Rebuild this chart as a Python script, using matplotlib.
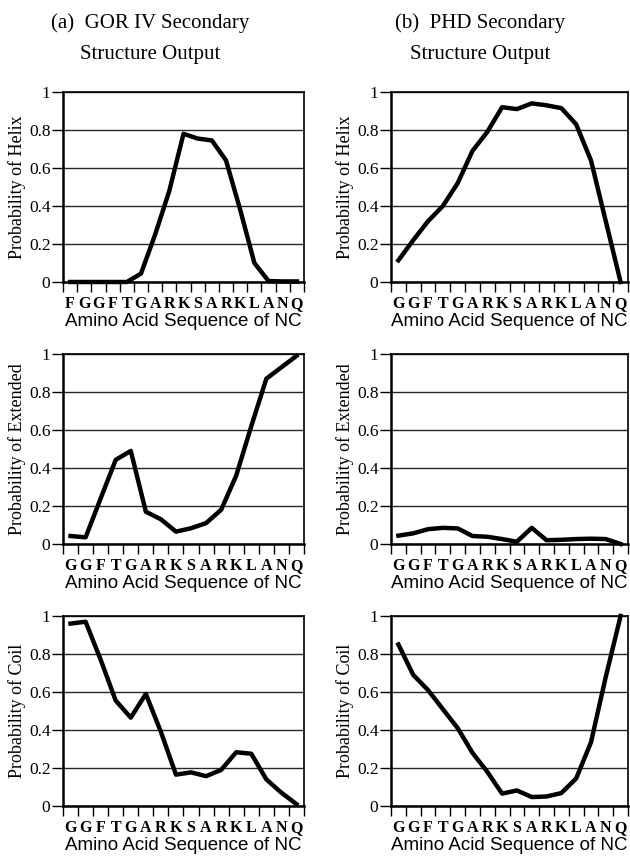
import numpy as np
import matplotlib.pyplot as plt

# amino acid letters on the x axes
seq_gor_helix = list("FGGFTGARKSARKLANQ")
seq = list("GGFTGARKSARKLANQ")

# (a) GOR IV
gor_helix = [0, 0, 0, 0, 0, 0.044, 0.25, 0.48, 0.78, 0.755, 0.745, 0.64, 0.38, 0.10, 0.005, 0.003, 0.003]
gor_ext = [0.042, 0.035, 0.24, 0.443, 0.49, 0.17, 0.13, 0.065, 0.083, 0.11, 0.18, 0.36, 0.62, 0.87, 0.93, 0.99]
gor_coil = [0.96, 0.97, 0.77, 0.555, 0.465, 0.59, 0.39, 0.165, 0.177, 0.157, 0.19, 0.283, 0.275, 0.14, 0.07, 0.01]

# (b) PHD
phd_helix = [0.114, 0.22, 0.32, 0.40, 0.52, 0.69, 0.79, 0.92, 0.91, 0.94, 0.93, 0.915, 0.83, 0.64, 0.32, 0.0]
phd_ext = [0.044, 0.056, 0.078, 0.085, 0.082, 0.042, 0.038, 0.026, 0.012, 0.085, 0.02, 0.022, 0.026, 0.028, 0.026, 0.0]
phd_coil = [0.85, 0.69, 0.61, 0.51, 0.41, 0.28, 0.18, 0.065, 0.082, 0.047, 0.05, 0.068, 0.145, 0.335, 0.68, 1.0]

yticks = [0, 0.2, 0.4, 0.6, 0.8, 1]
ytick_labels = ["0", "0.2", "0.4", "0.6", "0.8", "1"]
ylabels = ["Probability of Helix", "Probability of Extended", "Probability of Coil"]
xlabel = "Amino Acid Sequence of NC"

serif = "Liberation Serif"
sans = "Liberation Sans"

fig = plt.figure(figsize=(6.3, 8.57), dpi=100)
W, H = 630, 857

lefts = [63, 391]
widths = [241, 237]
bottoms = [282, 544, 806]   # pixel y of the 0 line
ph = 190

panels = [
    (0, 0, seq_gor_helix, gor_helix), (0, 1, seq, gor_ext), (0, 2, seq, gor_coil),
    (1, 0, seq, phd_helix), (1, 1, seq, phd_ext), (1, 2, seq, phd_coil),
]

for col, row, letters, vals in panels:
    ax = fig.add_axes([lefts[col] / W, 1 - bottoms[row] / H, widths[col] / W, ph / H])
    n = len(letters)
    x = np.arange(n)
    ax.plot(x, vals, color="black", lw=3.2, clip_on=False, zorder=5)
    ax.set_xlim(-0.5, n - 0.5)
    ax.set_ylim(0, 1)
    ax.set_yticks(yticks)
    ax.set_yticklabels(ytick_labels, family=serif, fontsize=12.5)
    ax.yaxis.grid(True, color="0.15", lw=1.0)
    ax.set_axisbelow(True)
    ax.tick_params(axis="y", direction="out", length=8, width=1, pad=1)
    # letters at the centres, tick marks at the boundaries
    ax.set_xticks(x)
    ax.set_xticklabels(letters, family=serif, fontsize=11.5, fontweight="bold")
    ax.set_xticks(np.arange(n + 1) - 0.5, minor=True)
    ax.tick_params(axis="x", which="major", length=0, pad=10)
    ax.tick_params(axis="x", which="minor", direction="out", length=7, width=1)
    for s in ax.spines.values():
        s.set_linewidth(1.2)
    ax.spines["left"].set_linewidth(1.8)
    ax.spines["bottom"].set_linewidth(1.8)
    ax.set_ylabel(ylabels[row], family=serif, fontsize=13, labelpad=2)
    ax.set_xlabel(xlabel, family=sans, fontsize=13.5, labelpad=1)

fig.text(150 / W, 1 - 23 / H, "(a)  GOR IV Secondary", ha="center", va="center", family=serif, fontsize=15)
fig.text(150 / W, 1 - 55 / H, "Structure Output", ha="center", va="center", family=serif, fontsize=15)
fig.text(480 / W, 1 - 23 / H, "(b)  PHD Secondary", ha="center", va="center", family=serif, fontsize=15)
fig.text(480 / W, 1 - 55 / H, "Structure Output", ha="center", va="center", family=serif, fontsize=15)

plt.savefig("out.png", dpi=100)
plt.close()
